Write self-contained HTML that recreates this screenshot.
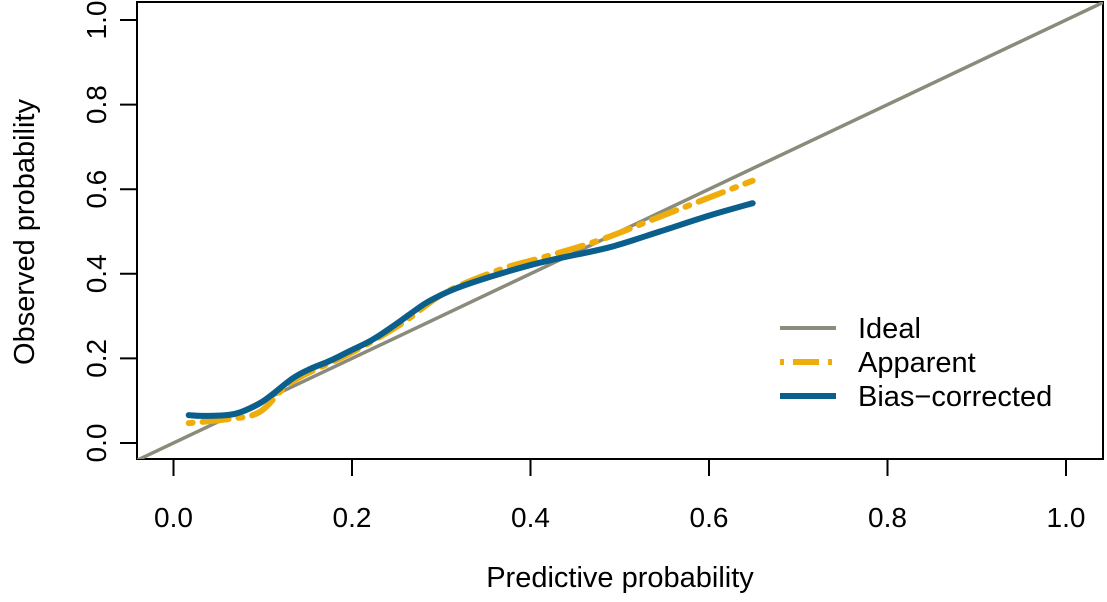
<!DOCTYPE html>
<html><head><meta charset="utf-8"><style>
body{margin:0;background:#fff}
svg text{font-family:"Liberation Sans",sans-serif;fill:#000}
</style></head><body>
<svg id="chart" width="1107" height="597" xmlns="http://www.w3.org/2000/svg">
<rect x="137" y="2" width="966" height="457" fill="none" stroke="#000" stroke-width="2"/>
<g id="axes"></g>
<g id="series"></g>
<text x="620" y="587" font-size="29" text-anchor="middle">Predictive probability</text>
<text transform="translate(34,232) rotate(-90)" font-size="29" text-anchor="middle">Observed probability</text>
<g>
<line x1="780" y1="328" x2="836" y2="328" stroke="#8b8b7c" stroke-width="4"/>
<text x="858" y="338" font-size="29">Ideal</text>
<line x1="780" y1="362" x2="836" y2="362" stroke="#efad0c" stroke-width="6" stroke-dasharray="4 9 26 9"/>
<text x="858" y="372" font-size="29">Apparent</text>
<line x1="780" y1="396" x2="836" y2="396" stroke="#0b5f8c" stroke-width="6"/>
<text x="858" y="406" font-size="29">Bias−corrected</text>
</g>
</svg>
<script>
const xTicks=[0,0.2,0.4,0.6,0.8,1.0];
const xTickLabels=["0.0","0.2","0.4","0.6","0.8","1.0"];
const yTicks=[0,0.2,0.4,0.6,0.8,1.0];
const yTickLabels=["0.0","0.2","0.4","0.6","0.8","1.0"];
const biasX=[0.017,0.035,0.069,0.099,0.133,0.153,0.175,0.198,0.222,0.248,0.271,0.287,0.315,0.355,0.399,0.433,0.489,0.545,0.601,0.649];
const biasY=[0.066,0.064,0.069,0.097,0.152,0.175,0.194,0.218,0.243,0.279,0.314,0.336,0.364,0.393,0.420,0.437,0.463,0.500,0.538,0.567];
const appX=[0.017,0.063,0.097,0.133,0.198,0.254,0.304,0.366,0.416,0.478,0.545,0.649];
const appY=[0.047,0.057,0.074,0.145,0.212,0.280,0.355,0.410,0.440,0.480,0.535,0.620];
const idealX=[-0.05,1.06];
const idealY=[-0.05,1.06];
const sx=v=>173.5+v*892.5;
const sy=v=>443-v*423;
const NS="http://www.w3.org/2000/svg";
const axes=document.getElementById('axes');
const series=document.getElementById('series');
function mk(tag,attrs,parent){const e=document.createElementNS(NS,tag);for(const k in attrs)e.setAttribute(k,attrs[k]);parent.appendChild(e);return e;}
xTicks.forEach((t,i)=>{
 const l=mk('line',{x1:sx(t),x2:sx(t),y1:459,y2:476,stroke:'#000','stroke-width':2},axes);
 
 
 const tx=mk('text',{x:sx(t),y:527,'font-size':28,'text-anchor':'middle'},axes);
 tx.textContent=xTickLabels[i];
 
 
});
yTicks.forEach((t,i)=>{
 const l=mk('line',{x1:120,x2:137,y1:sy(t),y2:sy(t),stroke:'#000','stroke-width':2},axes);
 
 
 const tx=mk('text',{transform:`translate(106,${sy(t)}) rotate(-90)`,'font-size':28,'text-anchor':'middle'},axes);
 tx.textContent=yTickLabels[i];
 
 
});
const clip=mk('clipPath',{id:'pc'},series);
mk('rect',{x:137,y:2,width:966,height:457},clip);
function path(xs,ys){return xs.map((x,i)=>(i?'L':'M')+sx(x).toFixed(1)+','+sy(ys[i]).toFixed(1)).join(' ');}
function smooth(xs,ys){
 const p=xs.map((x,i)=>[sx(x),sy(ys[i])]);
 let d='M'+p[0][0].toFixed(1)+','+p[0][1].toFixed(1);
 for(let i=0;i<p.length-1;i++){
  const p0=p[Math.max(i-1,0)],p1=p[i],p2=p[i+1],p3=p[Math.min(i+2,p.length-1)];
  const c1=[p1[0]+(p2[0]-p0[0])/6,p1[1]+(p2[1]-p0[1])/6];
  const c2=[p2[0]-(p3[0]-p1[0])/6,p2[1]-(p3[1]-p1[1])/6];
  d+=` C${c1[0].toFixed(1)},${c1[1].toFixed(1)} ${c2[0].toFixed(1)},${c2[1].toFixed(1)} ${p2[0].toFixed(1)},${p2[1].toFixed(1)}`;
 }
 return d;
}
const ideal=mk('path',{d:path(idealX,idealY),stroke:'#8b8b7c','stroke-width':3.5,fill:'none','clip-path':'url(#pc)'},series);


const app=mk('path',{d:smooth(appX,appY),stroke:'#efad0c','stroke-width':6,fill:'none','stroke-dasharray':'4 10 26 10','stroke-linecap':'round','stroke-linejoin':'round'},series);


const bias=mk('path',{d:smooth(biasX,biasY),stroke:'#0b5f8c','stroke-width':6,fill:'none','stroke-linecap':'round','stroke-linejoin':'round'},series);


</script>
</body></html>
